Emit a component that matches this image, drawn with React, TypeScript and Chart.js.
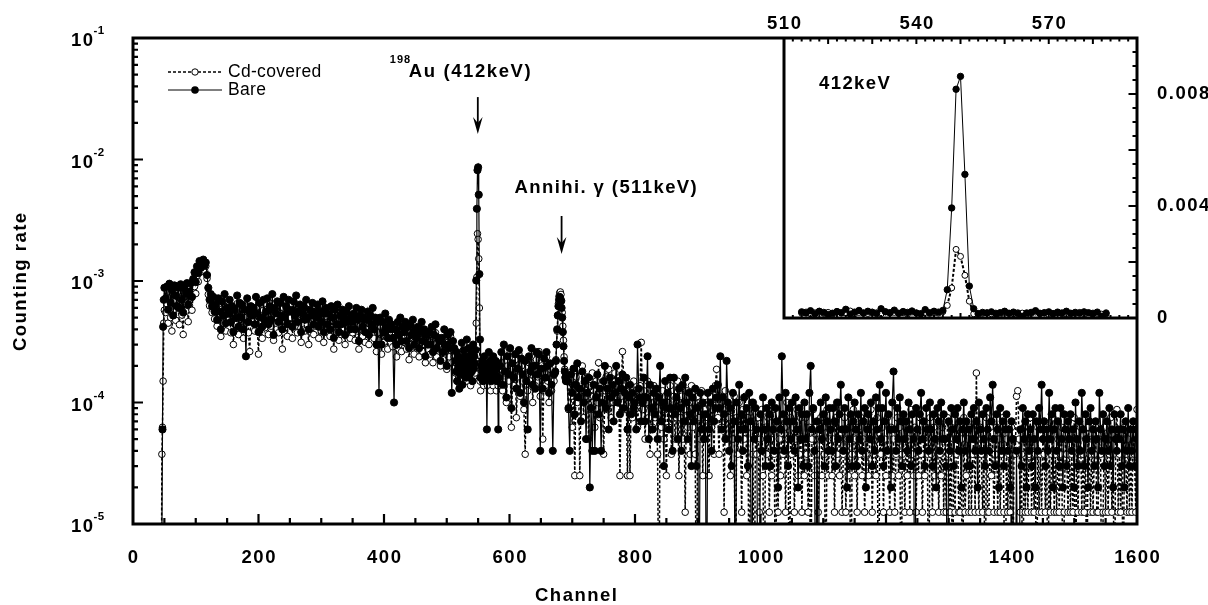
import React, { useEffect, useRef } from "react";
import { Chart, registerables } from "chart.js";
Chart.register(...registerables);

// ---------------- data ----------------
// Counts per channel; one count corresponds to these counting rates.
const CD_COUNT_RATE = 1.25e-5;
const BARE_COUNT_RATE = 1.0e-5;
const EMPTY_RATE = 1e-6; // empty channel -> drawn below the 10^-5 floor

// ch 45..50 (step 1)
const cdRise = [0, 3, 5, 12, 36, 46];
const bareRise = [0, 0, 6, 42, 70, 88];

// ch 52..512 (step 2)
const cdLow = [
  44, 52, 36, 58, 40, 31, 55, 47, 38, 60,
  48, 35, 57, 42, 29, 53, 45, 61, 37, 50,
  58, 46, 66, 72, 63, 88, 79, 104, 95, 110,
  112, 98, 106, 84, 62, 50, 57, 44, 52, 39,
  46, 34, 51, 40, 28, 47, 36, 55, 31, 43,
  38, 49, 30, 44, 24, 41, 35, 52, 29, 46,
  33, 45, 27, 40, 36, 50, 30, 21, 43, 37,
  42, 31, 48, 35, 20, 44, 38, 27, 46, 33,
  39, 47, 29, 43, 34, 52, 26, 41, 36, 45,
  30, 44, 37, 22, 48, 33, 41, 28, 46, 35,
  40, 27, 45, 34, 50, 30, 38, 43, 25, 36,
  42, 31, 47, 35, 24, 40, 33, 45, 29, 38,
  34, 43, 27, 39, 31, 46, 25, 36, 41, 30,
  37, 28, 42, 33, 22, 39, 30, 44, 26, 35,
  29, 40, 33, 24, 37, 31, 43, 27, 35, 30,
  36, 26, 39, 31, 22, 34, 41, 28, 33, 25,
  32, 38, 24, 35, 29, 40, 27, 33, 21, 30,
  26, 34, 20, 31, 25, 36, 28, 22, 33, 27,
  30, 23, 33, 26, 19, 31, 24, 35, 21, 28,
  25, 31, 22, 28, 18, 30, 24, 33, 20, 27,
  23, 29, 19, 26, 31, 21, 27, 17, 25, 22,
  26, 20, 28, 17, 24, 30, 19, 25, 22, 16,
  23, 18, 27, 21, 15, 25, 19, 28, 17, 22,
  19,
];
const bareLow = [
  72, 90, 58, 95, 66, 84, 52, 92, 76, 62,
  88, 60, 94, 70, 55, 86, 78, 96, 64, 82,
  96, 74, 104, 118, 98, 132, 116, 146, 128, 138,
  150, 134, 142, 112, 88, 70, 78, 62, 74, 56,
  64, 48, 72, 56, 40, 68, 52, 78, 45, 60,
  54, 70, 46, 62, 38, 58, 50, 76, 42, 66,
  50, 64, 40, 58, 24, 72, 46, 56, 62, 52,
  60, 44, 74, 54, 38, 66, 50, 42, 70, 48,
  56, 72, 44, 62, 48, 78, 36, 60, 54, 68,
  46, 66, 52, 40, 74, 50, 62, 44, 70, 56,
  58, 42, 68, 52, 76, 46, 56, 64, 38, 54,
  62, 48, 70, 50, 40, 58, 52, 66, 44, 56,
  50, 64, 42, 56, 46, 68, 38, 54, 60, 44,
  54, 40, 62, 50, 34, 58, 44, 64, 38, 52,
  44, 58, 50, 36, 56, 46, 62, 40, 52, 46,
  54, 40, 60, 48, 32, 52, 58, 42, 50, 38,
  48, 56, 36, 52, 44, 60, 40, 50, 30, 46,
  12, 50, 30, 46, 38, 54, 42, 34, 48, 40,
  44, 34, 10, 40, 30, 46, 36, 50, 32, 42,
  38, 46, 32, 42, 28, 44, 36, 48, 30, 40,
  34, 42, 28, 38, 46, 32, 40, 24, 36, 30,
  38, 30, 42, 26, 36, 44, 28, 34, 32, 22,
  34, 26, 40, 30, 20, 36, 28, 38, 12, 32,
  28,
];

// ch 514..583 (step 1) - 198Au 412 keV region (also the inset)
const cdAu = [
  14, 17, 12, 15, 19, 13, 16, 11, 18, 14, 15, 20, 12, 16, 14, 13, 17, 15, 12, 18,
  14, 16, 13, 15, 11, 17, 14, 12, 16, 13, 15, 14, 18,
  36, 86, 196, 176, 122, 48, 12,
  10, 13, 15, 12, 14, 11, 16, 13, 12, 15, 14, 11, 13, 17, 12, 14, 10, 13, 15, 12,
  11, 14, 13, 16, 12, 10, 14, 13, 11, 15,
];
const bareAu = [
  22, 18, 26, 15, 24, 20, 13, 17, 23, 19, 31, 14, 21, 27, 18, 24, 20, 16, 33, 22,
  19, 28, 17, 23, 20, 25, 18, 15, 30, 19, 24, 21, 27,
  101, 393, 817, 863, 513, 114, 33,
  16, 20, 18, 22, 15, 19, 24, 17, 21, 16, 6, 18, 20, 26, 17, 19, 22, 15, 21, 18,
  24, 16, 20, 17, 22, 19, 15, 21, 6, 16,
];

// ch 585..671 (step 2)
const cdMid = [
  13, 17, 10, 21, 14, 8, 16, 12, 19, 5,
  15, 11, 18, 6, 13, 20, 9, 16, 12, 7,
  3, 14, 10, 17, 12, 19, 8, 15, 11, 18,
  13, 21, 9, 16, 4, 14, 11, 19, 12, 8,
  15, 10, 13, 12,
];
const bareMid = [
  20, 26, 14, 30, 18, 11, 24, 17, 28, 9,
  21, 16, 25, 13, 19, 27, 12, 23, 17, 10,
  22, 15, 6, 24, 18, 28, 14, 20, 13, 26,
  17, 25, 4, 19, 13, 23, 16, 26, 20, 12,
  21, 14, 4, 17,
];

// ch 673..690 (step 1) - annihilation 511 keV
const cdAnni = [14, 18, 24, 31, 42, 52, 60, 64, 65, 62, 55, 44, 34, 26, 19, 15, 13, 12];
const bareAnni = [18, 22, 30, 40, 52, 62, 70, 74, 72, 68, 60, 50, 38, 29, 22, 18, 16, 15];

// ch 692..1600 (step 2)
const cdHigh = [
  12, 7, 14, 9, 5, 11, 2, 13, 8, 15,
  2, 10, 16, 6, 12, 9, 13, 4, 11, 7,
  14, 9, 5, 12, 8, 17, 6, 11, 10, 3,
  10, 13, 7, 15, 9, 6, 12, 8, 14, 11,
  8, 12, 2, 9, 21, 13, 7, 10, 2, 11,
  2, 9, 6, 12, 7, 10, 5, 8, 11, 25,
  7, 10, 4, 8, 12, 6, 3, 9, 5, 11,
  6, 9, 3, 0, 8, 5, 10, 4, 7, 2,
  8, 5, 11, 3, 7, 9, 4, 6, 12, 2,
  6, 9, 4, 7, 1, 10, 5, 8, 3, 11,
  5, 8, 3, 0, 9, 6, 4, 10, 2, 7,
  4, 8, 6, 2, 9, 5, 7, 3, 11, 15,
  6, 3, 9, 5, 7, 1, 10, 4, 8, 6,
  2, 7, 4, 9, 0, 6, 3, 8, 5, 1,
  7, 4, 9, 2, 6, 0, 5, 8, 3, 0,
  5, 3, 6, 1, 4, 7, 2, 0, 5, 3,
  6, 1, 4, 2, 7, 3, 0, 5, 1, 4,
  2, 6, 3, 5, 1, 8, 4, 0, 6, 3,
  5, 1, 4, 7, 2, 3, 6, 1, 4, 2,
  6, 3, 1, 5, 0, 4, 7, 2, 5, 3,
  1, 4, 6, 2, 5, 3, 0, 7, 2, 4,
  5, 2, 4, 1, 6, 3, 8, 2, 4, 1,
  3, 6, 1, 4, 2, 5, 0, 3, 7, 2,
  4, 1, 5, 3, 6, 2, 4, 1, 3, 5,
  2, 4, 7, 1, 3, 5, 2, 6, 0, 4,
  3, 5, 1, 4, 2, 6, 3, 1, 5, 2,
  4, 1, 3, 6, 2, 5, 0, 3, 4, 1,
  5, 2, 4, 1, 7, 3, 2, 5, 1, 4,
  2, 6, 3, 1, 4, 2, 5, 3, 0, 6,
  3, 1, 5, 2, 4, 6, 1, 3, 2, 5,
  1, 4, 1, 6, 3, 1, 5, 0, 4, 1,
  3, 5, 1, 1, 4, 0, 6, 1, 2, 4,
  1, 5, 1, 3, 4, 1, 14, 3, 1, 5,
  3, 1, 4, 0, 6, 1, 1, 5, 2, 4,
  1, 3, 5, 1, 4, 1, 3, 6, 1, 0,
  4, 1, 3, 1, 5, 0, 4, 3, 9, 10,
  4, 1, 3, 0, 5, 1, 4, 1, 3, 6,
  1, 4, 1, 3, 0, 5, 1, 3, 1, 4,
  3, 1, 5, 0, 4, 1, 3, 6, 1, 3,
  1, 4, 1, 3, 5, 0, 1, 4, 3, 1,
  4, 1, 3, 1, 6, 0, 4, 1, 3, 5,
  1, 3, 1, 4, 0, 5, 3, 1, 4, 1,
  3, 5, 1, 1, 4, 3, 0, 1, 5, 1,
  4, 1, 3, 6, 1, 3, 0, 4, 7, 1,
  3, 1, 4, 0, 5, 3, 1, 4, 1, 3,
  1, 5, 3, 1, 7,
];
const bareHigh = [
  15, 9, 4, 17, 12, 19, 8, 14, 21, 11,
  13, 7, 18, 10, 15, 5, 12, 16, 2, 9,
  4, 14, 4, 11, 17, 8, 13, 4, 10, 15,
  20, 9, 13, 6, 16, 11, 14, 7, 12, 20,
  10, 15, 8, 13, 17, 9, 12, 16, 6, 11,
  14, 8, 12, 9, 10, 6, 30, 13, 11, 7,
  10, 16, 7, 11, 24, 5, 14, 9, 6, 12,
  8, 13, 5, 11, 20, 7, 10, 3, 15, 9,
  12, 6, 16, 9, 4, 16, 8, 11, 5, 13,
  9, 4, 14, 7, 16, 10, 5, 12, 8, 3,
  11, 7, 13, 3, 9, 0, 12, 6, 10, 5,
  8, 0, 12, 6, 10, 4, 13, 7, 9, 11,
  14, 9, 24, 6, 11, 8, 5, 22, 10, 4,
  9, 3, 12, 7, 0, 10, 5, 14, 6, 8,
  4, 11, 6, 9, 3, 12, 7, 0, 10, 5,
  9, 6, 0, 0, 8, 4, 11, 6, 3, 9,
  5, 8, 3, 10, 6, 4, 9, 7, 2, 11,
  6, 24, 8, 4, 12, 7, 3, 9, 5, 10,
  7, 4, 11, 6, 2, 9, 5, 8, 3, 10,
  5, 8, 3, 12, 20, 6, 9, 4, 0, 7,
  0, 6, 10, 5, 8, 3, 11, 7, 4, 9,
  6, 4, 9, 7, 3, 10, 5, 8, 14, 6,
  4, 9, 6, 2, 11, 5, 8, 3, 7, 10,
  6, 3, 8, 5, 12, 4, 7, 9, 2, 6,
  8, 5, 10, 3, 7, 4, 11, 6, 9, 14,
  5, 9, 3, 7, 12, 4, 8, 6, 2, 10,
  18, 6, 4, 9, 5, 11, 7, 3, 8, 5,
  7, 4, 10, 6, 3, 8, 5, 0, 9, 6,
  4, 8, 12, 5, 7, 3, 9, 6, 4, 10,
  6, 3, 8, 5, 2, 9, 7, 4, 10, 5,
  8, 5, 3, 0, 7, 4, 9, 6, 3, 8,
  5, 9, 4, 7, 2, 6, 10, 4, 7, 3,
  6, 3, 8, 5, 9, 4, 7, 2, 10, 6,
  4, 8, 5, 3, 9, 6, 4, 11, 7, 14,
  5, 3, 8, 6, 2, 9, 4, 7, 3, 6,
  8, 4, 6, 2, 7, 5, 0, 0, 4, 0,
  0, 6, 3, 9, 5, 7, 2, 8, 4, 6,
  3, 8, 5, 2, 7, 4, 9, 6, 14, 5,
  7, 3, 6, 4, 12, 5, 8, 2, 6, 9,
  4, 7, 3, 9, 5, 2, 8, 6, 3, 7,
  5, 8, 4, 6, 2, 10, 5, 3, 7, 4,
  12, 6, 3, 8, 5, 2, 7, 9, 4, 6,
  3, 7, 5, 2, 12, 6, 4, 8, 3, 5,
  7, 4, 9, 3, 6, 2, 8, 5, 4, 6,
  5, 8, 3, 6, 2, 7, 4, 9, 3, 6,
  4, 7, 3, 6, 5,
];

// channel blocks: first channel and channel spacing of each block
const blocks = [
  { start: 45, step: 1, cd: cdRise, bare: bareRise },
  { start: 52, step: 2, cd: cdLow, bare: bareLow },
  { start: 514, step: 1, cd: cdAu, bare: bareAu },
  { start: 585, step: 2, cd: cdMid, bare: bareMid },
  { start: 673, step: 1, cd: cdAnni, bare: bareAnni },
  { start: 692, step: 2, cd: cdHigh, bare: bareHigh },
];
const INSET_BLOCK = 2;

const xTickLabels = [0, 200, 400, 600, 800, 1000, 1200, 1400, 1600];
const yDecades = [-5, -4, -3, -2, -1];
const insetXTickLabels = [510, 540, 570];
const insetYTickLabels = [0, 0.004, 0.008];
const legendLabels = ["Cd-covered", "Bare"];

// ---------------- helpers ----------------
const FONT = '"Liberation Sans", Arial, Helvetica, sans-serif';

function txt(ctx: any, s: string, x: number, y: number, size: number, o: any = {}) {
  const bold = o.bold !== false;
  const align = o.align || "left";
  const spacing = o.spacing ?? 1.5;
  ctx.font = `${bold ? "bold " : ""}${size}px ${FONT}`;
  ctx.letterSpacing = `${spacing}px`;
  ctx.textAlign = align;
  ctx.textBaseline = o.baseline || "alphabetic";
  let dx = 0;
  if (align === "center") dx = spacing / 2;
  if (align === "right") dx = spacing;
  ctx.fillText(s, x + dx, y);
  ctx.letterSpacing = "0px";
}

function arrow(ctx: any, x: number, tipY: number, len: number) {
  ctx.lineWidth = 1.8;
  ctx.setLineDash([]);
  ctx.beginPath();
  ctx.moveTo(x, tipY - len);
  ctx.lineTo(x, tipY - 10);
  ctx.stroke();
  ctx.beginPath();
  ctx.moveTo(x, tipY + 1);
  ctx.lineTo(x - 4.8, tipY - 16);
  ctx.lineTo(x, tipY - 10);
  ctx.lineTo(x + 4.8, tipY - 16);
  ctx.closePath();
  ctx.fill();
}

const mainDecor = {
  id: "mainDecor",
  afterDraw(chart: any) {
    const { ctx, chartArea: a } = chart;
    const xs = chart.scales.x;
    const ys = chart.scales.y;
    ctx.save();
    ctx.strokeStyle = "#000";
    ctx.fillStyle = "#000";
    ctx.setLineDash([]);

    ctx.lineWidth = 2.2;
    ctx.beginPath();
    for (let v = 50; v < 1600; v += 50) {
      const x = xs.getPixelForValue(v);
      const len = v % 200 === 0 ? 10 : 6;
      ctx.moveTo(x, a.bottom);
      ctx.lineTo(x, a.bottom - len);
    }
    for (const d of yDecades) {
      for (let m = 1; m <= 9; m++) {
        const v = m * Math.pow(10, d);
        if (v > 0.1 + 1e-12) break;
        const y = ys.getPixelForValue(v);
        const len = m === 1 ? 10 : 5;
        ctx.moveTo(a.left, y);
        ctx.lineTo(a.left + len, y);
      }
    }
    ctx.stroke();

    ctx.lineWidth = 3;
    ctx.strokeRect(a.left, a.top, a.right - a.left, a.bottom - a.top);

    for (const d of yDecades) {
      const y = ys.getPixelForValue(Math.pow(10, d));
      txt(ctx, "10", 93, y + 8, 18.5, { align: "right" });
      txt(ctx, String(d), 93.5, y - 4, 11.5, { spacing: 0.5 });
    }
    for (const v of xTickLabels) {
      txt(ctx, String(v), xs.getPixelForValue(v), 563, 18.5, { align: "center" });
    }
    txt(ctx, "Channel", 576, 601, 18.5, { align: "center" });
    ctx.save();
    ctx.translate(21, 282);
    ctx.rotate(-Math.PI / 2);
    txt(ctx, "Counting rate", 0, 0, 18.5, { align: "center", baseline: "middle" });
    ctx.restore();

    // legend
    const lx0 = 168, lx1 = 222, lm = 195;
    ctx.lineWidth = 1.5;
    ctx.setLineDash([3, 2]);
    ctx.beginPath();
    ctx.moveTo(lx0, 72);
    ctx.lineTo(lx1, 72);
    ctx.stroke();
    ctx.setLineDash([]);
    ctx.lineWidth = 1;
    ctx.beginPath();
    ctx.moveTo(lx0, 90);
    ctx.lineTo(lx1, 90);
    ctx.stroke();
    ctx.beginPath();
    ctx.arc(lm, 72, 3.2, 0, Math.PI * 2);
    ctx.fillStyle = "#fff";
    ctx.fill();
    ctx.stroke();
    ctx.fillStyle = "#000";
    ctx.beginPath();
    ctx.arc(lm, 90, 3.8, 0, Math.PI * 2);
    ctx.fill();
    txt(ctx, legendLabels[0], 228, 72, 17.5, { bold: false, spacing: 0.3, baseline: "middle" });
    txt(ctx, legendLabels[1], 228, 90, 17.5, { bold: false, spacing: 0.3, baseline: "middle" });

    // peak annotations
    const auX = xs.getPixelForValue(549.5);
    const auTip = ys.getPixelForValue(0.0165);
    arrow(ctx, auX, auTip, 36);
    txt(ctx, "198", auX - 88, auTip - 70, 11, { spacing: 1 });
    txt(ctx, "Au (412keV)", auX - 69, auTip - 56, 18.5, { spacing: 1.6 });

    const anX = xs.getPixelForValue(683);
    const anTip = ys.getPixelForValue(0.0017);
    arrow(ctx, anX, anTip, 37);
    txt(ctx, "Annihi. \u03b3 (511keV)", anX - 47, anTip - 60, 18.5, { spacing: 1.4 });
    ctx.restore();
  },
};

const insetDecor = {
  id: "insetDecor",
  afterDraw(chart: any) {
    const { ctx, chartArea: a } = chart;
    const xs = chart.scales.x;
    const ys = chart.scales.y;
    ctx.save();
    ctx.strokeStyle = "#000";
    ctx.fillStyle = "#000";
    ctx.setLineDash([]);
    ctx.lineWidth = 2;
    ctx.beginPath();
    for (let v = 512; v < 590; v += 2) {
      const x = xs.getPixelForValue(v);
      const len = v % 10 === 0 ? 6 : 3.5;
      ctx.moveTo(x, a.top);
      ctx.lineTo(x, a.top + len);
      ctx.moveTo(x, a.bottom);
      ctx.lineTo(x, a.bottom - (v % 10 === 0 ? 5 : 3));
    }
    for (let i = 1; i < 20; i++) {
      const y = ys.getPixelForValue(i * 0.0005);
      const len = i % 4 === 0 ? 8.5 : 4.5;
      ctx.moveTo(a.right, y);
      ctx.lineTo(a.right - len, y);
    }
    ctx.stroke();
    ctx.lineWidth = 3;
    ctx.beginPath();
    ctx.moveTo(a.left, a.top);
    ctx.lineTo(a.left, a.bottom);
    ctx.lineTo(a.right, a.bottom);
    ctx.stroke();

    for (const v of insetXTickLabels) {
      txt(ctx, String(v), xs.getPixelForValue(v), 29, 18.5, { align: "center" });
    }
    for (const v of insetYTickLabels) {
      txt(ctx, v === 0 ? "0" : v.toFixed(3), 397, ys.getPixelForValue(v), 18.5, { baseline: "middle" });
    }
    txt(ctx, "412keV", 59, 89, 18.5, { spacing: 1.4 });
    ctx.restore();
  },
};

export default function App() {
  const mainRef = useRef<HTMLCanvasElement | null>(null);
  const insetRef = useRef<HTMLCanvasElement | null>(null);

  useEffect(() => {
    const channels: number[] = [];
    const cdCounts: number[] = [];
    const bareCounts: number[] = [];
    blocks.forEach((b) => {
      b.cd.forEach((k, i) => {
        channels.push(b.start + i * b.step);
        cdCounts.push(k);
        bareCounts.push(b.bare[i] ?? 0);
      });
    });
    const cdData = channels.map((c, i) => ({ x: c, y: cdCounts[i] > 0 ? cdCounts[i] * CD_COUNT_RATE : EMPTY_RATE }));
    const bareData = channels.map((c, i) => ({ x: c, y: bareCounts[i] > 0 ? bareCounts[i] * BARE_COUNT_RATE : EMPTY_RATE }));

    const main = new Chart(mainRef.current as HTMLCanvasElement, {
      type: "line",
      data: {
        datasets: [
          {
            label: legendLabels[0],
            order: 1,
            data: cdData,
            borderColor: "#000",
            borderWidth: 1.5,
            borderDash: [3, 2],
            pointStyle: "circle",
            pointRadius: (c: any) => (cdCounts[c.dataIndex] === 0 ? 0 : 3.3),
            pointBackgroundColor: "#fff",
            pointBorderColor: "#000",
            pointBorderWidth: 1,
          } as any,
          {
            label: legendLabels[1],
            order: 0,
            data: bareData,
            borderColor: "#000",
            borderWidth: 1.2,
            pointStyle: "circle",
            pointRadius: (c: any) => (bareCounts[c.dataIndex] === 0 ? 0 : 3.6),
            pointBackgroundColor: "#000",
            pointBorderColor: "#000",
            pointBorderWidth: 1,
          } as any,
        ],
      },
      options: {
        responsive: false,
        animation: false,
        devicePixelRatio: 1,
        events: [],
        layout: { padding: { left: 133, top: 38, right: 71, bottom: 81 } },
        scales: {
          x: { type: "linear", min: 0, max: 1600, display: false },
          y: { type: "logarithmic", min: 1e-5, max: 0.1, display: false },
        },
        plugins: { legend: { display: false }, tooltip: { enabled: false } },
      } as any,
      plugins: [mainDecor],
    });

    const ib = blocks[INSET_BLOCK];
    const inset = new Chart(insetRef.current as HTMLCanvasElement, {
      type: "line",
      data: {
        datasets: [
          {
            label: legendLabels[0],
            order: 1,
            data: ib.cd.map((k, i) => ({ x: ib.start + i * ib.step, y: k * CD_COUNT_RATE })),
            borderColor: "#000",
            borderWidth: 2,
            borderDash: [3, 2],
            pointRadius: 3,
            pointBackgroundColor: "#fff",
            pointBorderColor: "#000",
            pointBorderWidth: 1,
          } as any,
          {
            label: legendLabels[1],
            order: 0,
            data: ib.bare.map((k, i) => ({ x: ib.start + i * ib.step, y: k * BARE_COUNT_RATE })),
            borderColor: "#000",
            borderWidth: 1,
            pointRadius: 3.2,
            pointBackgroundColor: "#000",
            pointBorderColor: "#000",
            pointBorderWidth: 1,
          } as any,
        ],
      },
      options: {
        responsive: false,
        animation: false,
        devicePixelRatio: 1,
        events: [],
        layout: { padding: { left: 24, top: 38, right: 71, bottom: 22 } },
        scales: {
          x: { type: "linear", min: 510, max: 590, display: false },
          y: { type: "linear", min: 0, max: 0.01, display: false },
        },
        plugins: { legend: { display: false }, tooltip: { enabled: false } },
      } as any,
      plugins: [insetDecor],
    });

    return () => {
      main.destroy();
      inset.destroy();
    };
  }, []);

  return (
    <div style={{ position: "fixed", left: 0, top: 0, width: 1208, height: 605, background: "#fff" }}>
      <canvas
        ref={mainRef}
        width={1208}
        height={605}
        style={{ position: "absolute", left: 0, top: 0, width: 1208, height: 605 }}
      />
      <canvas
        ref={insetRef}
        width={448}
        height={340}
        style={{ position: "absolute", left: 760, top: 0, width: 448, height: 340 }}
      />
    </div>
  );
}
